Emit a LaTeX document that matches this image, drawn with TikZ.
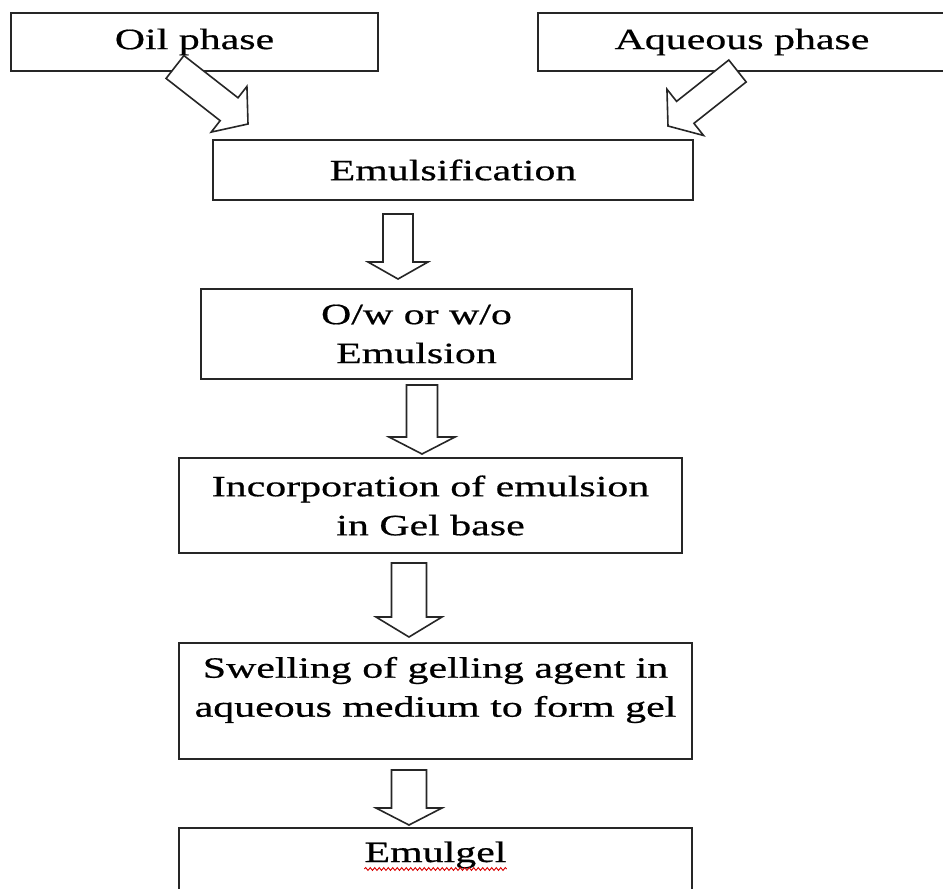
\documentclass[tikz,border=0pt]{standalone}
\usepackage{fontspec}
\setmainfont[FakeStretch=1.42,FakeBold=0.6]{Liberation Serif}
\usetikzlibrary{calc,decorations.pathmorphing}
\newcommand{\blockarr}[5]{%
  \coordinate (ba-base) at ($(#2)!#5!(#1)$);
  \draw[barrow] ($(#1)!#3!90:(#2)$) -- ($(ba-base)!#3!90:(#2)$) -- ($(ba-base)!#4!90:(#2)$) -- (#2)
    -- ($(ba-base)!#4!-90:(#2)$) -- ($(ba-base)!#3!-90:(#2)$) -- ($(#1)!#3!-90:(#2)$) -- cycle;
}
\begin{document}
\begin{tikzpicture}[x=1pt,y=-1pt,
  box/.style={draw=black!85, line width=2pt, fill=white, rectangle, inner sep=0pt, align=center, font=\fontsize{29.5}{39}\selectfont},
  lbl/.style={inner sep=0pt, align=center, font=\fontsize{29.5}{39}\selectfont},
  barrow/.style={draw=black!85, line width=1.6pt, fill=white, line join=miter}]
\path[use as bounding box, clip] (0,0) rectangle (943,889);
\fill[white] (0,0) rectangle (943,889);
% boxes
\node[box, minimum width=367pt, minimum height=58pt] (oil) at (194.5,42) {Oil phase};
\node[box, minimum width=408pt, minimum height=58pt] (aq) at (742,42) {Aqueous phase};
\node[box, minimum width=480pt, minimum height=60pt] (emuls) at (453,170) {Emulsification};
\node[box, minimum width=431pt, minimum height=90pt] (ow) at (416.5,334) {O/w or w/o\\Emulsion};
\node[box, minimum width=503pt, minimum height=95pt] (inc) at (430.5,505.5) {Incorporation of emulsion\\in Gel base};
\node[box, minimum width=513pt, minimum height=116pt] (swell) at (435.5,701) {};
\node[lbl] (swelltxt) at (435.5,690) {Swelling of gelling agent in\\aqueous medium to form gel};
\node[box, minimum width=513pt, minimum height=102pt] (emulgel) at (435.5,879) {};
\node[lbl, anchor=base] (emt) at (435.5,862) {Emulgel};
\draw[red!85!black, line width=0.9pt, decorate, decoration={snake, amplitude=1.4pt, segment length=4.5pt}]
  ($(emt.base west)+(0,7)$) -- ($(emt.base east)+(0,7)$);
% arrows
\coordinate (oilT) at (175,67);   \coordinate (oilH) at (248,124);
\coordinate (aqT) at (737.5,71);  \coordinate (aqH) at (668,126);
\coordinate (a1T) at (398,214);   \coordinate (a1H) at (398,279);
\coordinate (a2T) at (422,385);   \coordinate (a2H) at (422,454);
\coordinate (a3T) at (409,563);   \coordinate (a3H) at (409,637);
\coordinate (a4T) at (409,770);   \coordinate (a4H) at (409,825);
\blockarr{oilT}{oilH}{14.5pt}{29pt}{24pt}
\blockarr{aqT}{aqH}{14pt}{29.5pt}{22pt}
\blockarr{a1T}{a1H}{15pt}{30pt}{17pt}
\blockarr{a2T}{a2H}{15.5pt}{33pt}{17pt}
\blockarr{a3T}{a3H}{17.5pt}{33pt}{20pt}
\blockarr{a4T}{a4H}{17.5pt}{33pt}{17pt}
\end{tikzpicture}
\end{document}
